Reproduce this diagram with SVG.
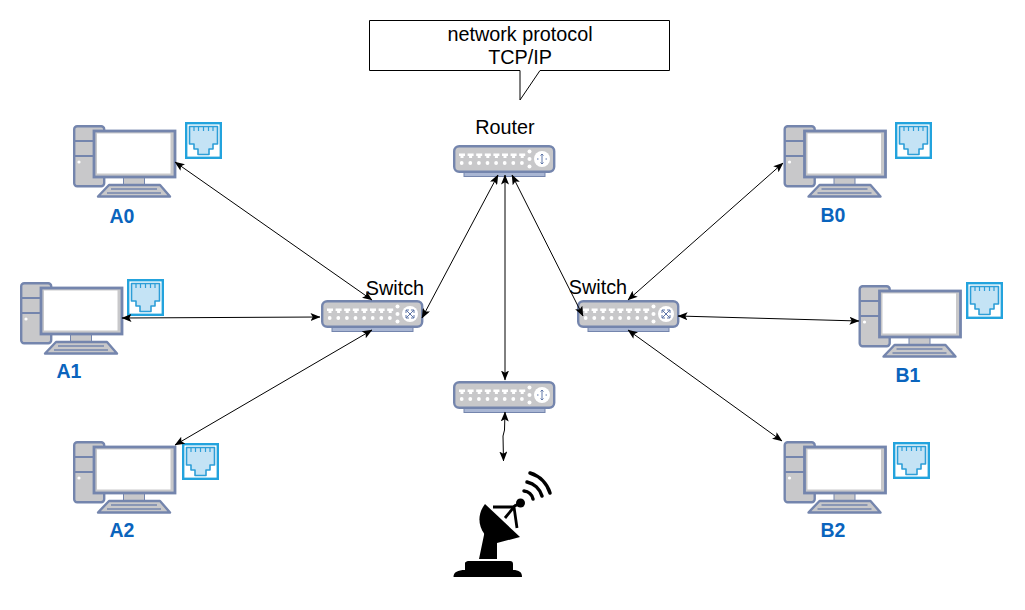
<svg xmlns="http://www.w3.org/2000/svg" xmlns:xlink="http://www.w3.org/1999/xlink" width="1025" height="610" viewBox="0 0 1025 610">
<style>
text{font-family:"Liberation Sans",Arial,sans-serif;fill:#000;text-anchor:middle}
.t{font-size:19.800px}
.pl{font-size:19.500px;font-weight:bold;fill:#0a64bd}
.c{fill:none;stroke:#000;stroke-width:1;marker-start:url(#ah);marker-end:url(#ah)}
.f{fill:#c8c8ca;stroke:#7485ad;stroke-width:2.400;stroke-linejoin:round}
</style>
<defs>
<marker id="ah" viewBox="0 0 10 8" refX="9.500" refY="4" markerWidth="10" markerHeight="8" markerUnits="userSpaceOnUse" orient="auto-start-reverse"><path d="M0,0L10,4L0,8L2.200,4Z" fill="#000"/></marker>
<g id="pc">
<rect class="f" x="1.200" y="1.200" width="30" height="60" rx="3"/>
<path d="M1.200,16H31M1.200,31H31" stroke="#7485ad" stroke-width="2" fill="none"/>
<circle cx="6" cy="37" r="1.600" fill="#fff"/>
<rect x="50.500" y="51" width="21" height="9" fill="#c8c8ca" stroke="#7485ad" stroke-width="1"/>
<rect x="21" y="6" width="81" height="46" fill="#c8c8ca" stroke="#7485ad" stroke-width="2.800"/>
<rect x="24" y="8.500" width="73.500" height="40" fill="#fff"/>
<path d="M36,60H87L97,71.500H25Z" class="f" stroke-width="1.500"/>
<path d="M38,64H84M34,68H88" stroke="#7485ad" stroke-width="1.400" fill="none"/>
</g>
<g id="rj">
<rect x="1.200" y="1.200" width="34.600" height="34.600" fill="#fff" stroke="#23a3dd" stroke-width="2.400"/>
<path d="M4.500,4.500H32.500V22H28V27H24V32.500H13V27H9V22H4.500Z" fill="#c4e3f5" stroke="#2d9ed8" stroke-width="1.600" stroke-linejoin="round"/>
<path d="M9,4.500V9M13.500,4.500V9M18.500,4.500V9M23.500,4.500V9M28,4.500V9" stroke="#2d9ed8" stroke-width="1.200"/>
</g>
<g id="hub">
<rect x="11" y="26" width="81" height="5.500" fill="#a9b6d3" stroke="#7485ad" stroke-width="1"/>
<rect x="1.200" y="1.200" width="100" height="25.600" rx="5" class="f"/>
<g fill="#fff">
<path d="M6,8.500h6v2.500h-1.500v2h-3v-2h-1.500z" id="p"/>
<use xlink:href="#p" x="8.600"/><use xlink:href="#p" x="17.200"/><use xlink:href="#p" x="25.800"/><use xlink:href="#p" x="34.400"/><use xlink:href="#p" x="43"/><use xlink:href="#p" x="51.600"/><use xlink:href="#p" x="60.200"/>
<circle cx="8.700" cy="18" r="1.900"/><circle cx="17.300" cy="18" r="1.900"/><circle cx="25.900" cy="18" r="1.900"/><circle cx="34.500" cy="18" r="1.900"/><circle cx="43.100" cy="18" r="1.900"/><circle cx="51.700" cy="18" r="1.900"/><circle cx="60.300" cy="18" r="1.900"/><circle cx="68.900" cy="18" r="1.900"/>
<circle cx="76.500" cy="6.500" r="2"/><circle cx="76.500" cy="14" r="2"/><circle cx="76.500" cy="21.500" r="2"/>
<circle cx="89" cy="14" r="8"/>
</g>
</g>
<g id="rg" stroke="#5f76a8" stroke-width="1" fill="none"><path d="M89,9V19M84,14H85.500M92.500,14H94M87.500,10.500L89,9L90.500,10.500M87.500,17.500L89,19L90.500,17.500"/></g>
<g id="xg" stroke="#5f76a8" stroke-width="1" fill="none"><path d="M85,10L93,18M93,10L85,18M85,13V10H88M90,10H93V13M85,15V18H88M90,18H93V15"/></g>
</defs>

<g id="callout">
<path d="M369.500,20.500H669.500V70.500H540L520,100V70.500H369.500Z" fill="#fff" stroke="#000" stroke-width="1"/>
<text class="t" x="520" y="40.500">network protocol</text>
<text class="t" x="520" y="64">TCP/IP</text>
</g>

<g id="router"><use xlink:href="#hub" x="453" y="145"/><use xlink:href="#rg" x="453" y="145"/><text class="t" x="505" y="134">Router</text></g>
<g id="router2"><use xlink:href="#hub" x="453" y="381"/><use xlink:href="#rg" x="453" y="381"/></g>
<g id="switch-a"><use xlink:href="#hub" x="321" y="300"/><use xlink:href="#xg" x="321" y="300"/><text class="t" x="395" y="294.500">Switch</text></g>
<g id="switch-b"><use xlink:href="#hub" x="577" y="300"/><use xlink:href="#xg" x="577" y="300"/><text class="t" x="598" y="293.500">Switch</text></g>

<g id="a0"><use xlink:href="#pc" x="73" y="125"/><use xlink:href="#rj" x="185" y="122"/><text class="pl" x="122" y="223">A0</text></g>
<g id="a1"><use xlink:href="#pc" x="20" y="282"/><use xlink:href="#rj" x="127" y="279"/><text class="pl" x="69" y="378">A1</text></g>
<g id="a2"><use xlink:href="#pc" x="73" y="441"/><use xlink:href="#rj" x="182" y="443"/><text class="pl" x="122" y="537">A2</text></g>
<g id="b0"><use xlink:href="#pc" x="783.500" y="125"/><use xlink:href="#rj" x="895" y="122"/><text class="pl" x="833" y="222">B0</text></g>
<g id="b1"><use xlink:href="#pc" x="858.500" y="285"/><use xlink:href="#rj" x="966" y="282"/><text class="pl" x="908" y="382">B1</text></g>
<g id="b2"><use xlink:href="#pc" x="783.500" y="441"/><use xlink:href="#rj" x="893" y="442"/><text class="pl" x="833" y="537">B2</text></g>

<g id="dish">
<path d="M453.500,577C453.500,572 458,570 465,570V563C465,562 467,561 468,561H510C512,561 513,562 513,564V570C519,570 522,572 522,577Z" fill="#000"/>
<path d="M479,559L484,535C485,526 495,526 497,535L497,559Z" fill="#000"/>
<circle cx="488.500" cy="533" r="2.500" fill="#fff"/>
<path d="M485,504L520,537L497,543C480,537 474,518 485,504Z" fill="#000"/>
<path d="M493,507H513L520,503M505,518L514,507L517,528" fill="none" stroke="#000" stroke-width="2.800"/>
<circle cx="520.500" cy="503" r="4.500" fill="#000"/>
<path d="M524,491A10,10 0 0 1 533,499M527,482A20,20 0 0 1 542,496M530,473A30,30 0 0 1 550,493" fill="none" stroke="#000" stroke-width="3.500" stroke-linecap="round"/>
</g>

<g id="connectors">
<path class="c" d="M175,162L372,300"/>
<path class="c" d="M122,318L320,317"/>
<path class="c" d="M175,445L372,330"/>
<path class="c" d="M422,318L498,175"/>
<path class="c" d="M505,175V380"/>
<path class="c" d="M512,175L583,316"/>
<path class="c" d="M783,163L628,300"/>
<path class="c" d="M678,316L859,321"/>
<path class="c" d="M628,330L782,441"/>
<path class="c" d="M505,412L504.500,430L503,436L503.500,461"/>
</g>
</svg>
